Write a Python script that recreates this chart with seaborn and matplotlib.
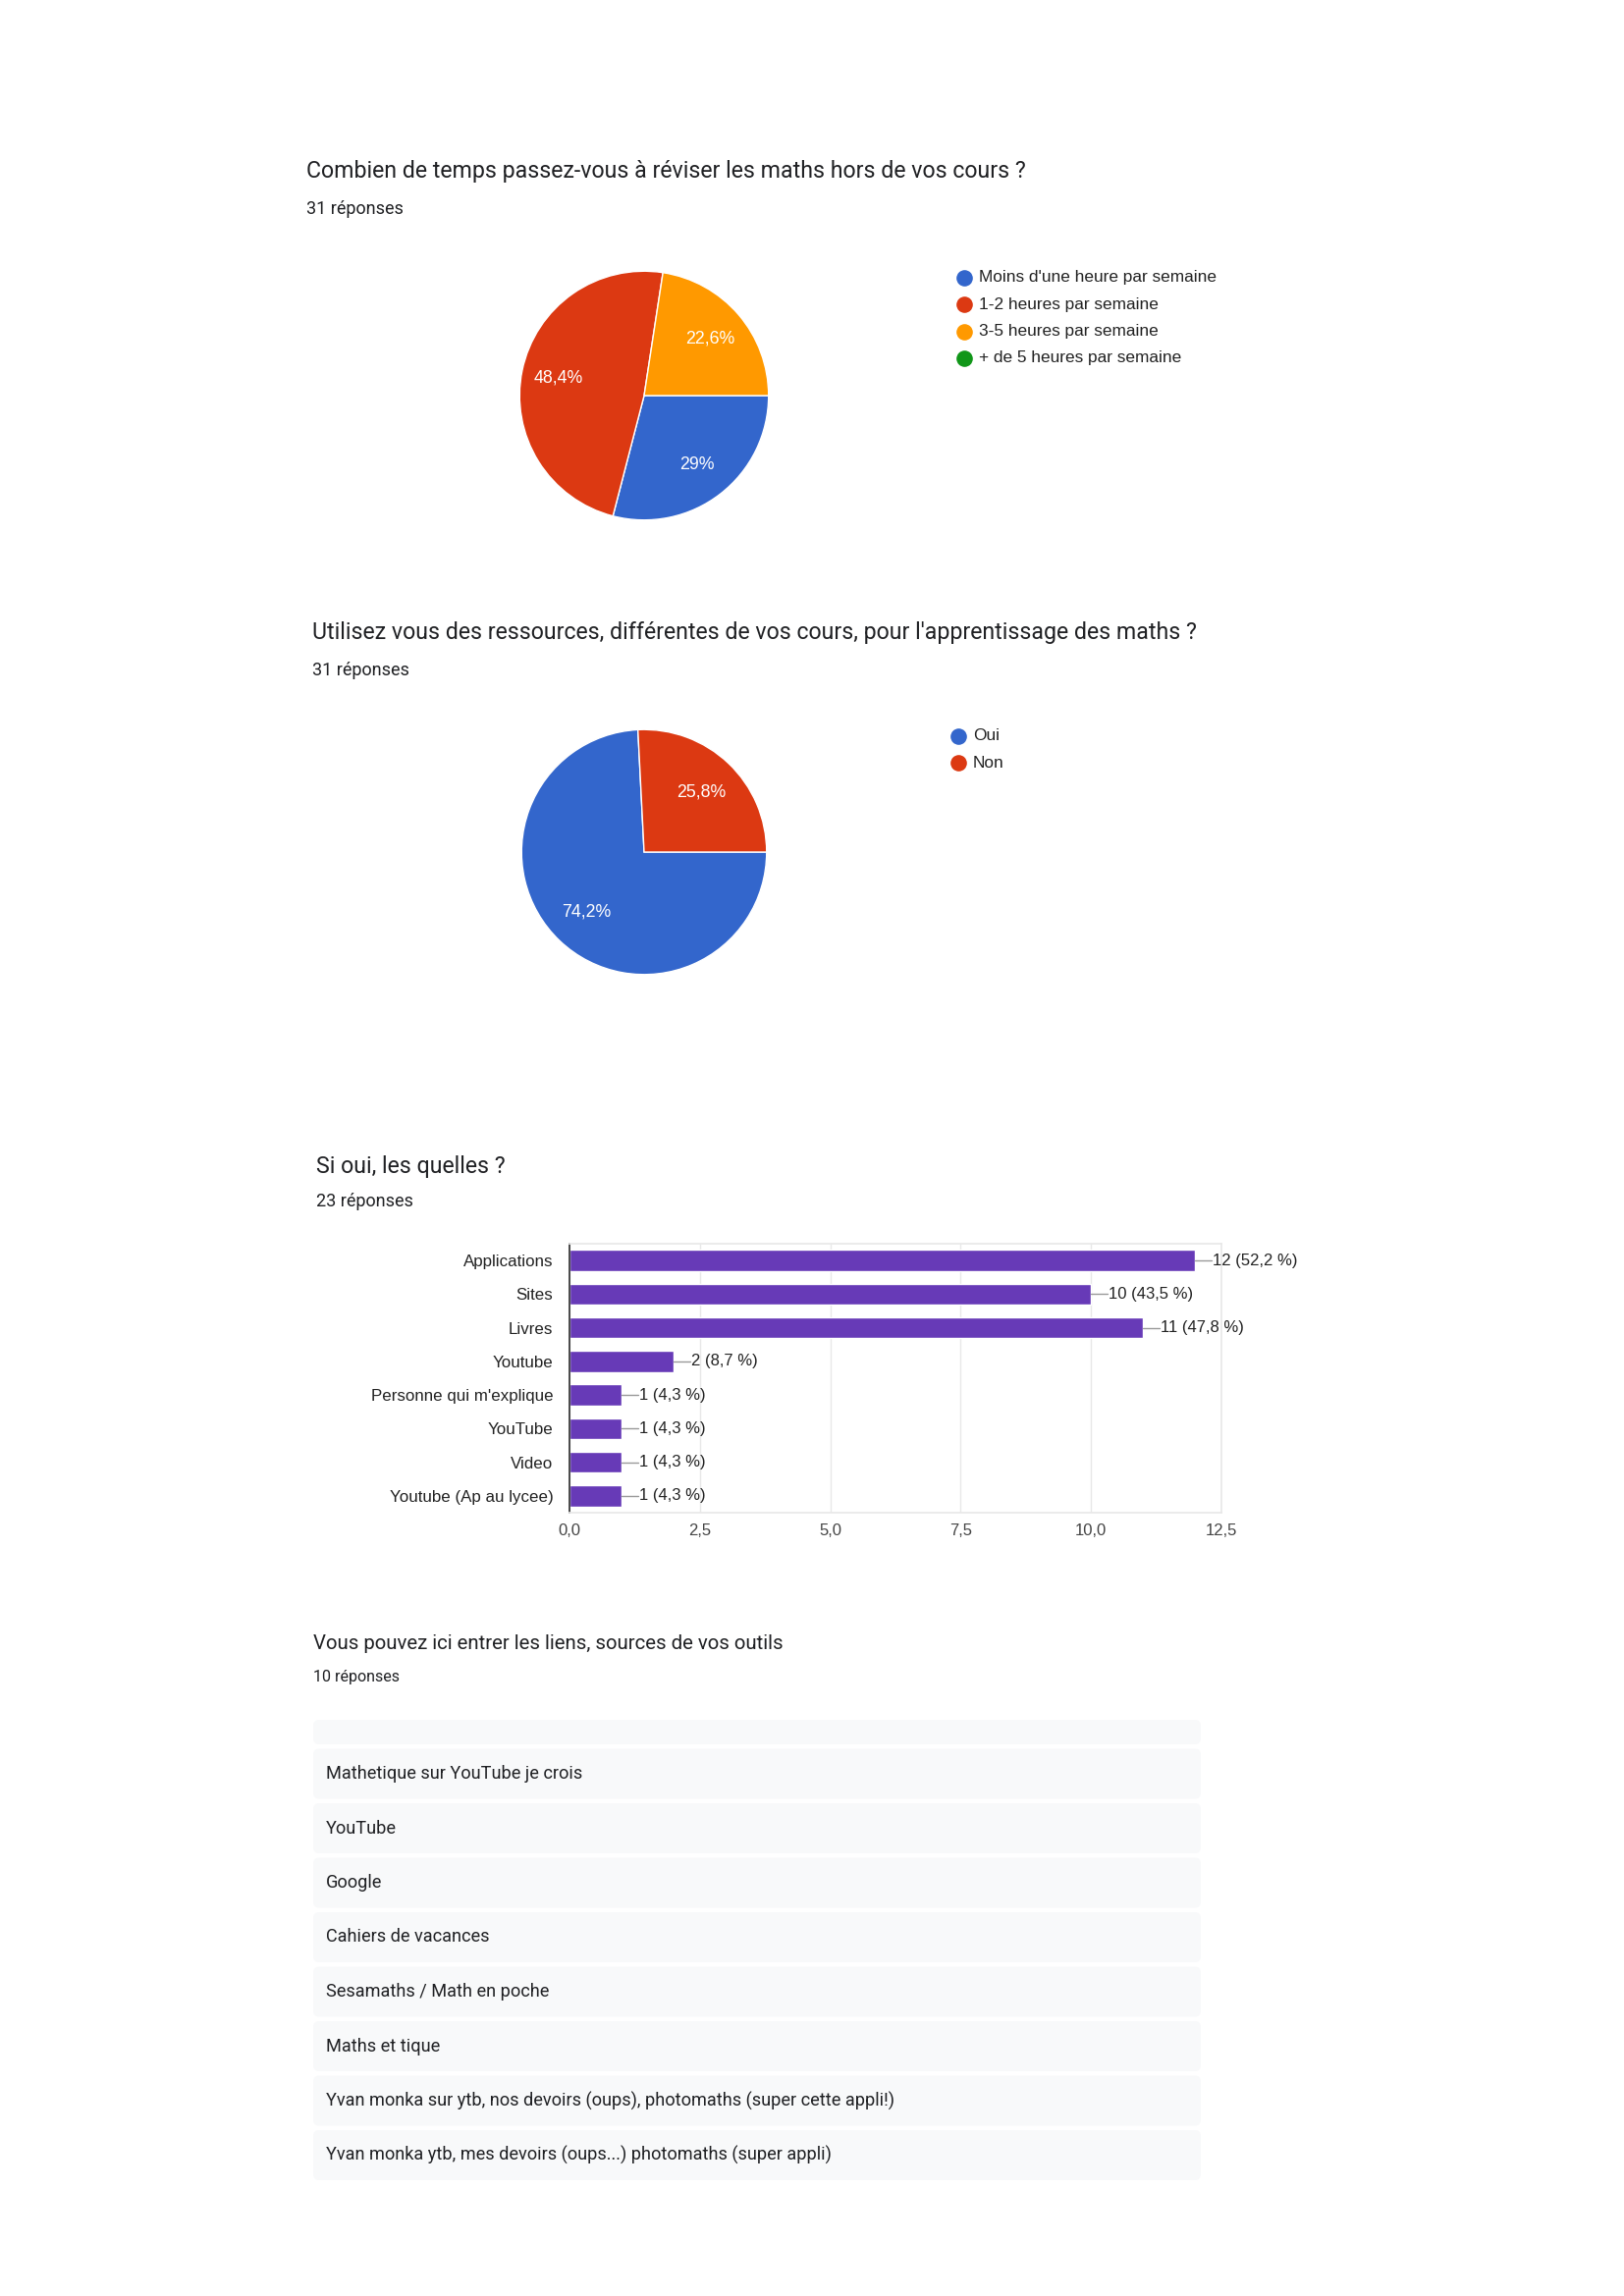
import numpy as np
import pandas as pd
import matplotlib
matplotlib.use("Agg")
import matplotlib.pyplot as plt
from matplotlib.patches import FancyBboxPatch
from matplotlib.ticker import FuncFormatter
import seaborn as sns

# --- data ---
q1_title = "Combien de temps passez-vous à réviser les maths hors de vos cours ?"
q1_count = "31 réponses"
q1_labels = ["Moins d'une heure par semaine", "1-2 heures par semaine",
             "3-5 heures par semaine", "+ de 5 heures par semaine"]
q1_values = [9, 15, 7, 0]

q2_title = "Utilisez vous des ressources, différentes de vos cours, pour l'apprentissage des maths ?"
q2_count = "31 réponses"
q2_labels = ["Oui", "Non"]
q2_values = [23, 8]

q3_title = "Si oui, les quelles ?"
q3_count = "23 réponses"
q3_labels = ["Applications", "Sites", "Livres", "Youtube", "Personne qui m'explique",
             "YouTube", "Video", "Youtube (Ap au lycee)"]
q3_values = [12, 10, 11, 2, 1, 1, 1, 1]
q3_total = 23

q4_title = "Vous pouvez ici entrer les liens, sources de vos outils"
q4_count = "10 réponses"
q4_answers = ["", "Mathetique sur YouTube je crois", "YouTube", "Google", "Cahiers de vacances",
              "Sesamaths / Math en poche", "Maths et tique",
              "Yvan monka sur ytb, nos devoirs (oups), photomaths (super cette appli!)",
              "Yvan monka ytb, mes devoirs (oups...) photomaths (super appli)"]

pie_colors = ["#3366cc", "#dc3912", "#ff9900", "#109618"]
bar_color = "#673ab7"

sns.set_theme(style="white")
plt.rcParams['font.family'] = ['Liberation Sans', 'DejaVu Sans']

W, H = 1654, 2339
fig = plt.figure(figsize=(W / 100, H / 100), dpi=100)
fig.patch.set_facecolor("white")

# background axes in pixel coordinates
bg = fig.add_axes([0, 0, 1, 1])
bg.set_xlim(0, W)
bg.set_ylim(H, 0)
bg.axis("off")


def px_axes(x0, y0, w, h):
    return fig.add_axes([x0 / W, 1 - (y0 + h) / H, w / W, h / H])


def header(title, count, x, y_title, y_count, tsize=16.7, csize=13):
    bg.text(x, y_title, title, fontsize=tsize, color="#202124", va="center", family="Roboto")
    bg.text(x, y_count, count, fontsize=csize, color="#202124", va="center", family="Roboto")


def pct_fmt(p):
    if p < 0.05:
        return ""
    s = f"{p:.1f}"
    if s.endswith(".0"):
        s = s[:-2]
    return s.replace(".", ",") + "%"


def draw_pie(values, colors, cx, cy, r, pctd):
    ax = px_axes(cx - r, cy - r, 2 * r, 2 * r)
    vals = [v for v in values if v > 0]
    cols = [c for v, c in zip(values, colors) if v > 0]
    ax.pie(vals, colors=cols, startangle=0, counterclock=False, radius=1,
           autopct=pct_fmt, pctdistance=pctd,
           wedgeprops=dict(edgecolor="white", linewidth=1),
           textprops=dict(color="white", fontsize=12.8))
    ax.set_xlim(-1.01, 1.01)
    ax.set_ylim(-1.01, 1.01)
    return ax


def draw_legend(labels, colors, x, y0, step):
    for i, (lab, col) in enumerate(zip(labels, colors)):
        y = y0 + i * step
        bg.scatter([x], [y], s=120, color=col, zorder=3)
        bg.text(x + 15, y, lab, fontsize=12.4, color="#222222", va="center")


# --- section 1 ---
header(q1_title, q1_count, 312, 175, 213)
draw_pie(q1_values, pie_colors, 656, 403, 128, 0.7)
draw_legend(q1_labels, pie_colors, 982, 283, 27.3)

# --- section 2 ---
header(q2_title, q2_count, 318, 645, 683)
draw_pie(q2_values, pie_colors[:2], 656, 868, 126, 0.68)
draw_legend(q2_labels, pie_colors[:2], 976, 750, 27.3)

# --- section 3 ---
header(q3_title, q3_count, 322, 1188, 1224)
df3 = pd.DataFrame({"source": q3_labels, "count": q3_values})
ax3 = px_axes(580, 1267, 664, 274)
sns.barplot(data=df3, x="count", y="source", orient="h", color=bar_color,
            width=0.63, saturation=1, ax=ax3)
ax3.set_xlim(0, 12.5)
ax3.set_ylim(7.5, -0.5)
ax3.set_xticks(np.arange(0, 12.6, 2.5))
ax3.xaxis.set_major_formatter(FuncFormatter(lambda v, p: f"{v:.1f}".replace(".", ",")))
ax3.grid(axis="x", color="#e8e8e8", linewidth=1)
ax3.set_axisbelow(True)
ax3.set_xlabel("")
ax3.set_ylabel("")
ax3.tick_params(axis="y", length=0, pad=12, labelsize=12.2, labelcolor="#222222")
ax3.tick_params(axis="x", length=0, pad=8, labelsize=12, labelcolor="#444444")
for side in ["top", "right", "bottom"]:
    ax3.spines[side].set_color("#e8e8e8")
ax3.spines["left"].set_color("#333333")
for i, v in enumerate(q3_values):
    ax3.plot([v, v + 0.32], [i, i], color="#999999", linewidth=1, zorder=3)
    lab = f"{v} ({v / q3_total * 100:.1f} %)".replace(".", ",")
    ax3.text(v + 0.33, i, lab, va="center", ha="left", fontsize=12, color="#222222")

# --- section 4 ---
header(q4_title, q4_count, 319, 1674, 1708, tsize=14.7, csize=11.5)
box_x, box_w = 319, 904
top = 1752
for k, ans in enumerate(q4_answers):
    h = 25 if ans == "" else 51
    bg.add_patch(FancyBboxPatch((box_x, top), box_w, h,
                                boxstyle="round,pad=0,rounding_size=6",
                                facecolor="#f8f9fa", edgecolor="none"))
    if ans:
        bg.text(332, top + h / 2, ans, fontsize=13.1, color="#202124",
                va="center", family="Roboto")
    top += h + 4.5

fig.savefig("out.png", dpi=100, facecolor="white")
